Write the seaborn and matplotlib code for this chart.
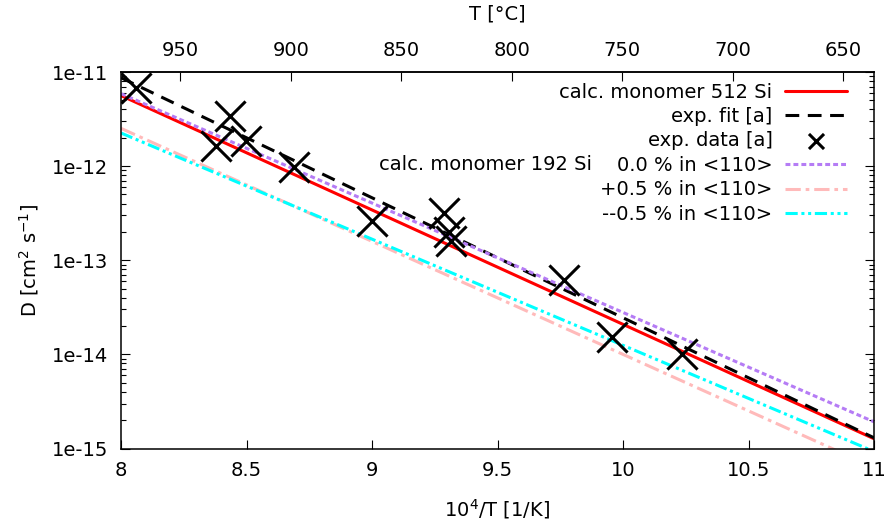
"""Diffusion coefficient vs inverse temperature, calc. vs experiment."""

import numpy as np
import pandas as pd
import matplotlib
matplotlib.use('Agg')
import matplotlib.pyplot as plt
import matplotlib.ticker as mtick
import seaborn as sns

sns.set_theme(style='ticks')
plt.rcParams['font.family'] = ['DejaVu Sans']
plt.rcParams['text.color'] = 'black'

# x range of the calc. / fit lines (10^4/T)
x_line = [8.0, 11.0]

# D values at the ends of each line [cm^2/s]
d_calc512 = [5.62e-12, 1.27e-15]
d_fit = [8.69e-12, 1.30e-15]
d_calc192_0 = [5.89e-12, 1.92e-15]
d_calc192_p05 = [2.52e-12, 6.3e-16]
d_calc192_m05 = [2.25e-12, 9.3e-16]

# exp. data [a]
x_exp = [8.059, 8.434, 8.377, 8.497, 8.689, 9.001, 9.287, 9.307, 9.315,
         9.765, 9.957, 10.234]
d_exp = [6.8e-12, 3.44e-12, 1.62e-12, 1.84e-12, 9.7e-13, 2.6e-13, 3.2e-13,
         2.0e-13, 1.62e-13, 6.1e-14, 1.52e-14, 1.01e-14]

c_ticks = [950, 900, 850, 800, 750, 700, 650]

fs = 14
fig = plt.figure(figsize=(8.85, 5.24), dpi=100)
ax = fig.add_axes([121/885, 1 - 448.5/524, 753/885, 376.5/524])

lines = [
    (d_calc512, 'calc. monomer 512 Si', 'red', '-'),
    (d_fit, 'exp. fit [a]', 'black', (0, (4.5, 2.8))),
]
for d, lab, col, ls in lines:
    sns.lineplot(x=x_line, y=d, color=col, linestyle=ls, lw=2.2, label=lab,
                 ax=ax)

sns.scatterplot(x=x_exp, y=d_exp, marker='x', s=470, color='black',
                linewidth=2.2, label='exp. data [a]', ax=ax, zorder=5)

calc192 = [
    (d_calc192_0, '0.0 % in <110>', '#b57cf5', (0, (1.6, 1.0))),
    (d_calc192_p05, '+0.5 % in <110>', '#ffbaba', (0, (5, 1.6, 1.2, 1.6))),
    (d_calc192_m05, '--0.5 % in <110>', 'cyan',
     (0, (4, 1.2, 1.0, 1.2, 1.0, 1.2))),
]
for d, lab, col, ls in calc192:
    sns.lineplot(x=x_line, y=d, color=col, linestyle=ls, lw=2.2, label=lab,
                 ax=ax)

ax.set_yscale('log')
ax.set_xlim(8, 11)
ax.set_ylim(1e-15, 1e-11)
ax.set_xticks([8, 8.5, 9, 9.5, 10, 10.5, 11])
ax.xaxis.set_major_formatter(mtick.FuncFormatter(lambda v, p: f'{v:g}'))
ax.yaxis.set_major_locator(mtick.FixedLocator([1e-15, 1e-14, 1e-13, 1e-12, 1e-11]))
ax.yaxis.set_major_formatter(
    mtick.FuncFormatter(lambda v, p: f'1e{int(round(np.log10(v)))}'))
ax.yaxis.set_minor_locator(mtick.LogLocator(base=10, subs=np.arange(2, 10)))
ax.yaxis.set_minor_formatter(mtick.NullFormatter())

ax.tick_params(axis='both', which='major', direction='in', length=6.5,
               width=0.8, color='black', labelsize=fs, labelcolor='black')
ax.tick_params(axis='y', which='both', direction='in', right=True,
               width=0.8, color='black')
ax.tick_params(axis='y', which='minor', length=3.6)
ax.tick_params(axis='x', top=False, pad=9)
ax.tick_params(axis='y', pad=9)
for s in ax.spines.values():
    s.set_color('black')
    s.set_linewidth(1.1)

ax.set_xlabel('10$^4$/T [1/K]', fontsize=fs, labelpad=12, color='black')
ax.set_ylabel('D [cm$^2$ s$^{-1}$]', fontsize=fs, labelpad=8, color='black')

# top axis, linear in deg C between the ends of the 1/T range
c_lo = 1e4 / 8.0 - 273.15
c_hi = 1e4 / 11.0 - 273.15
def x_to_c(x):
    return c_lo + (np.asarray(x) - 8.0) * (c_hi - c_lo) / 3.0
def c_to_x(c):
    return 8.0 + (np.asarray(c) - c_lo) * 3.0 / (c_hi - c_lo)

ax2 = ax.secondary_xaxis('top', functions=(x_to_c, c_to_x))
ax2.set_xticks(c_ticks)
ax2.tick_params(direction='in', length=6.5, width=0.8, color='black',
                labelsize=fs, pad=8.5, labelcolor='black')
ax2.set_xlabel('T [°C]', fontsize=fs, labelpad=15.5, color='black')

leg = ax.legend(loc='upper right', bbox_to_anchor=(0.964, 0.972),
                frameon=False, fontsize=fs, markerfirst=False,
                handlelength=3.2, handletextpad=0.62, labelspacing=0.28,
                borderpad=0, borderaxespad=0, markerscale=0.5,
                labelcolor='black')
ax.text(0.625, 0.7556, 'calc. monomer 192 Si', transform=ax.transAxes,
        ha='right', va='center', fontsize=fs, color='black')

fig.savefig('out.png', dpi=100)
